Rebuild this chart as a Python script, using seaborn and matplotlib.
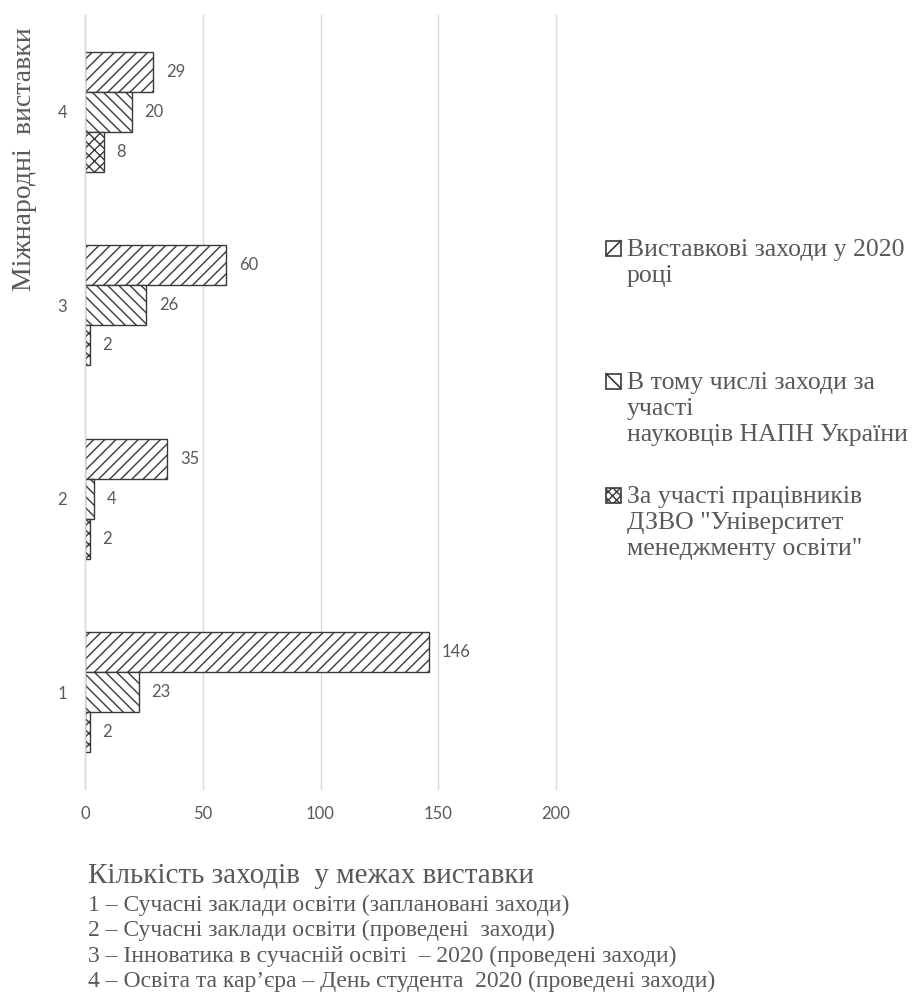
import matplotlib
matplotlib.use("Agg")
import matplotlib.pyplot as plt
from matplotlib.patches import Rectangle
from matplotlib.lines import Line2D
import seaborn as sns
import pandas as pd

# ---- data ----
categories = ["1", "2", "3", "4"]
series_keys = ["Виставкові заходи у 2020 році",
               "В тому числі заходи за участі науковців НАПН України",
               "За участі працівників ДЗВО \"Університет менеджменту освіти\""]
legend_lines = [
    ["Виставкові заходи у 2020", "році"],
    ["В тому числі заходи за", "участі", "науковців НАПН України"],
    ["За участі працівників", "ДЗВО \"Університет", "менеджменту освіти\""],
]
exhibitions = [146, 35, 60, 29]
napn = [23, 4, 26, 20]
dzvo = [2, 2, 2, 8]
x_ticks = [0, 50, 100, 150, 200]
y_label = "Міжнародні  виставки"
x_title = "Кількість заходів  у межах виставки"
notes = [
    "1 – Сучасні заклади освіти (заплановані заходи)",
    "2 – Сучасні заклади освіти (проведені  заходи)",
    "3 – Інноватика в сучасній освіті  – 2020 (проведені заходи)",
    "4 – Освіта та кар’єра – День студента  2020 (проведені заходи)",
]

rows = []
for name, vals in zip(series_keys, [exhibitions, napn, dzvo]):
    for c, v in zip(categories, vals):
        rows.append({"cat": c, "series": name, "value": v})
df = pd.DataFrame(rows)

sns.set_theme(style="white")
plt.rcParams["hatch.linewidth"] = 1.0
plt.rcParams["font.family"] = ["DejaVu Sans"]

GRAY = "#595959"
EDGE = "#3a3a3a"
LIGHT = "#d9d9d9"
hatches = ["///", "\\\\\\", "xxx"]

W, H = 914, 992
fig = plt.figure(figsize=(W / 100, H / 100), dpi=100)
ax = fig.add_axes([85 / W, 1 - 789 / H, (556 - 85) / W, (789 - 15) / H])

sns.barplot(
    data=df, x="value", y="cat", hue="series",
    order=["4", "3", "2", "1"], hue_order=series_keys,
    orient="h", width=0.62, palette=["white"] * 3,
    edgecolor=EDGE, linewidth=1.0, ax=ax, legend=False,
)
for cont, h in zip(ax.containers, hatches):
    for bar in cont:
        bar.set_hatch(h)
        bar.set_edgecolor(EDGE)
    ax.bar_label(cont, padding=9, color=GRAY, fontsize=12, family="Lato")

ax.set_xlim(0, 200)
ax.set_xticks(x_ticks)
ax.set_xticklabels([str(t) for t in x_ticks], family="Lato", fontsize=12, color=GRAY)
ax.set_ylim(3.5, -0.5)
ax.set_yticks([0, 1, 2, 3])
ax.set_yticklabels(["4", "3", "2", "1"], family="Lato", fontsize=12, color=GRAY)
ax.set_yticks([-0.5, 0.5, 1.5, 2.5, 3.5], minor=True)
ax.tick_params(axis="y", which="major", length=0, pad=13)
ax.tick_params(axis="y", which="minor", length=4, color=LIGHT, width=1)
ax.tick_params(axis="x", length=0, pad=12)
ax.set_xlabel("")
ax.set_ylabel("")
ax.grid(axis="x", color=LIGHT, linewidth=1)
for gl in ax.get_xgridlines():
    gl.set_clip_on(False)
ax.set_axisbelow(True)
for s in ["top", "right", "bottom"]:
    ax.spines[s].set_visible(False)
ax.spines["left"].set_color(LIGHT)
ax.spines["left"].set_linewidth(1)

SERIF = "Liberation Serif"

fig.text(25 / W, 1 - 27 / H, y_label, rotation=90, ha="center", va="top",
         family=SERIF, fontsize=20, color=GRAY)


def put_line(x_px, center_px, s, size):
    # place baseline so that cap-height centre sits at center_px
    font_px = size * 100 / 72
    base = center_px + 0.33 * font_px
    fig.text(x_px / W, 1 - base / H, s, ha="left", va="baseline",
             family=SERIF, fontsize=size, color=GRAY)


put_line(88, 873, x_title, 21)
for i, n in enumerate(notes):
    put_line(88, 903 + 25.5 * i, n, 17)

# legend (manual, top-aligned markers like the original)
entry_centers = [248, 381, 495]
LEG_SIZE = 18.5
for lines, c0, h in zip(legend_lines, entry_centers, hatches):
    for j, s in enumerate(lines):
        put_line(627, c0 + 26 * j, s, LEG_SIZE)
    x0, x1 = 606, 621
    y0, y1 = c0 + 7.5, c0 - 7.5
    tf = fig.transFigure
    if h == "xxx":
        rect = Rectangle((x0 / W, 1 - y0 / H), (x1 - x0) / W, (y0 - y1) / H,
                         transform=tf, facecolor="white", edgecolor=EDGE,
                         hatch="xxxx", linewidth=1.2)
        fig.add_artist(rect)
    else:
        rect = Rectangle((x0 / W, 1 - y0 / H), (x1 - x0) / W, (y0 - y1) / H,
                         transform=tf, facecolor="white", edgecolor=EDGE,
                         linewidth=1.2)
        fig.add_artist(rect)
        if h == "///":
            xs, ys = [x0, x1], [y0, y1]
        else:
            xs, ys = [x0, x1], [y1, y0]
        fig.add_artist(Line2D([v / W for v in xs], [1 - v / H for v in ys],
                              transform=tf, color=EDGE, linewidth=1.2))

fig.savefig("out.png", dpi=100)
